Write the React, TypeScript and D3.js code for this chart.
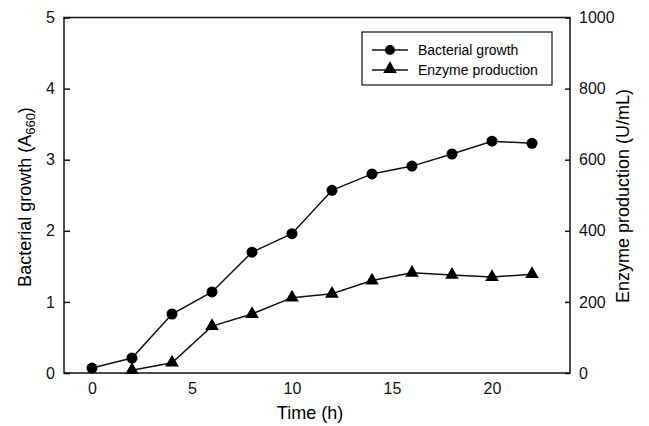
import React, { useEffect, useRef } from "react";
import * as d3 from "d3";

const hours = [0, 2, 4, 6, 8, 10, 12, 14, 16, 18, 20, 22];
const growth = [0.07, 0.21, 0.83, 1.14, 1.70, 1.96, 2.57, 2.80, 2.91, 3.08, 3.26, 3.23];
const enzymeHours = [2, 4, 6, 8, 10, 12, 14, 16, 18, 20, 22];
const enzyme = [8, 29, 132, 166, 212, 223, 260, 282, 276, 270, 278];
const xTicks = [0, 5, 10, 15, 20];
const leftTicks = [0, 1, 2, 3, 4, 5];
const rightTicks = [0, 200, 400, 600, 800, 1000];
const legendLabels = ["Bacterial growth", "Enzyme production"];

export default function App() {
  const ref = useRef<SVGSVGElement>(null);

  useEffect(() => {
    const svg = d3.select(ref.current);
    svg.selectAll("*").remove();

    const left = 64, right = 570, top = 17.5, bottom = 373;
    const font = "Arial, 'Liberation Sans', sans-serif";
    const fmt = d3.format("d");

    const x = d3.scaleLinear().domain([-1.4, 23.9]).range([left, right]);
    const y = d3.scaleLinear().domain([0, 5]).range([bottom, top]);
    const y2 = d3.scaleLinear().domain([0, 1000]).range([bottom, top]);

    // frame
    svg.append("rect")
      .attr("x", left).attr("y", top)
      .attr("width", right - left).attr("height", bottom - top)
      .attr("fill", "none").attr("stroke", "#111").attr("stroke-width", 1.5);

    const styleAxis = (g: any) => {
      g.select(".domain").remove();
      g.selectAll("line").attr("stroke", "#111").attr("stroke-width", 1.5);
      g.selectAll("text").attr("font-family", font).attr("font-size", 16).attr("fill", "#111");
    };

    svg.append("g")
      .attr("transform", `translate(0,${bottom})`)
      .call(d3.axisBottom(x).tickValues(xTicks).tickFormat(fmt).tickSize(0).tickPadding(10))
      .call(styleAxis);

    svg.append("g")
      .attr("transform", `translate(${left},0)`)
      .call(d3.axisLeft(y).tickValues(leftTicks).tickFormat(fmt).tickSize(-6).tickPadding(9))
      .call(styleAxis);

    svg.append("g")
      .attr("transform", `translate(${right},0)`)
      .call(d3.axisRight(y2).tickValues(rightTicks).tickFormat(fmt).tickSize(-5).tickPadding(9))
      .call(styleAxis);

    // axis titles
    svg.append("text")
      .attr("x", (left + right) / 2 - 7).attr("y", 419)
      .attr("text-anchor", "middle")
      .attr("font-family", font).attr("font-size", 18)
      .text("Time (h)");

    const lt = svg.append("text")
      .attr("transform", "translate(31,197) rotate(-90)")
      .attr("text-anchor", "middle")
      .attr("font-family", font).attr("font-size", 18);
    lt.append("tspan").text("Bacterial growth (A");
    lt.append("tspan").attr("font-size", 13).attr("dy", 4).text("660");
    lt.append("tspan").attr("dy", -4).text(")");

    svg.append("text")
      .attr("transform", "translate(629,196) rotate(-90)")
      .attr("text-anchor", "middle")
      .attr("font-family", font).attr("font-size", 18)
      .text("Enzyme production (U/mL)");

    // lines
    const growthLine = d3.line<number>().x((d, i) => x(hours[i])).y(d => y(d));
    const enzymeLine = d3.line<number>().x((d, i) => x(enzymeHours[i])).y(d => y2(d));

    svg.append("path").attr("d", growthLine(growth))
      .attr("fill", "none").attr("stroke", "#111").attr("stroke-width", 1.5);
    svg.append("path").attr("d", enzymeLine(enzyme))
      .attr("fill", "none").attr("stroke", "#111").attr("stroke-width", 1.5);

    const tri = d3.symbol().type(d3.symbolTriangle).size(80);

    svg.append("g").selectAll("circle").data(growth).enter().append("circle")
      .attr("cx", (d, i) => x(hours[i])).attr("cy", d => y(d))
      .attr("r", 5.5).attr("fill", "#000");

    svg.append("g").selectAll("path").data(enzyme).enter().append("path")
      .attr("d", tri)
      .attr("transform", (d, i) => `translate(${x(enzymeHours[i])},${y2(d)})`)
      .attr("fill", "#000");

    // legend
    const lg = svg.append("g").attr("transform", "translate(362,32)");
    lg.append("rect").attr("width", 190).attr("height", 53)
      .attr("fill", "#fff").attr("stroke", "#111").attr("stroke-width", 1.2);
    legendLabels.forEach((label, i) => {
      const cy = 18 + i * 20;
      lg.append("line").attr("x1", 10).attr("x2", 46).attr("y1", cy).attr("y2", cy)
        .attr("stroke", "#111").attr("stroke-width", 1.5);
      if (i === 0) {
        lg.append("circle").attr("cx", 28).attr("cy", cy).attr("r", 5).attr("fill", "#000");
      } else {
        lg.append("path").attr("d", tri).attr("transform", `translate(28,${cy - 1})`).attr("fill", "#000");
      }
      lg.append("text").attr("x", 56).attr("y", cy + 5)
        .attr("font-family", font).attr("font-size", 14)
        .text(label);
    });
  }, []);

  return (
    <svg ref={ref} width={649} height={426}
      style={{ position: "absolute", left: 0, top: 0, background: "#fff" }} />
  );
}
